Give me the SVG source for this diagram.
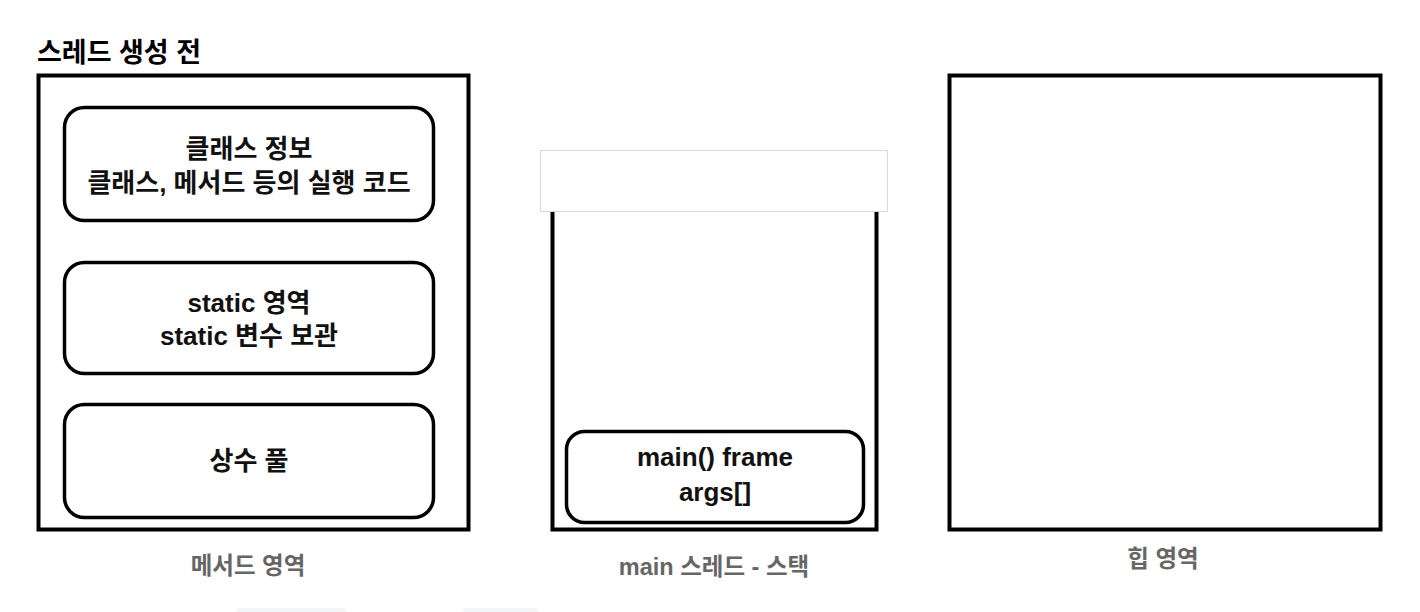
<svg xmlns="http://www.w3.org/2000/svg" width="1420" height="612" viewBox="0 0 1420 612">
<style>
text{font-family:"Liberation Sans","Noto Sans CJK KR",sans-serif;text-anchor:middle;}
.t{font-size:26px;font-weight:bold;fill:#111;}
.lbl{font-size:23.5px;font-weight:bold;fill:#666;}
.title{font-size:27px;font-weight:bold;fill:#000;text-anchor:start;}
.box{fill:#fff;stroke:#000;stroke-width:4;}
.rb{fill:#fff;stroke:#000;stroke-width:3.5;}
</style>
<rect width="1420" height="612" fill="#fff"/>
<text class="title" x="37" y="62">스레드 생성 전</text>
<g id="method-area">
<rect class="box" x="38.5" y="75.5" width="430" height="454"/>
<text class="lbl" x="248" y="574">메서드 영역</text>
</g>
<g id="class-info">
<rect class="rb" x="64.5" y="107.5" width="369" height="113" rx="20"/>
<text class="t" x="249" y="158">클래스 정보</text>
<text class="t" x="249" y="192">클래스, 메서드 등의 실행 코드</text>
</g>
<g id="static-area">
<rect class="rb" x="64.5" y="262.5" width="369" height="111" rx="20"/>
<text class="t" x="249" y="312">static 영역</text>
<text class="t" x="249" y="345">static 변수 보관</text>
</g>
<g id="constant-pool">
<rect class="rb" x="64.5" y="404.5" width="369" height="113" rx="20"/>
<text class="t" x="249" y="470">상수 풀</text>
</g>
<g id="main-stack">
<rect class="box" x="552.5" y="170" width="324" height="359.5"/>
<rect x="540.5" y="150.5" width="347" height="61" fill="#fff" stroke="#d9d9d9" stroke-width="1"/>
<text class="lbl" x="714" y="575">main 스레드 - 스택</text>
</g>
<g id="main-frame">
<rect class="rb" x="566.5" y="431.5" width="297" height="91" rx="18"/>
<text class="t" x="715" y="466">main() frame</text>
<text class="t" x="715" y="501">args[]</text>
</g>
<g id="heap">
<rect class="box" x="949.5" y="75.5" width="431" height="454"/>
<text class="lbl" x="1163" y="567">힙 영역</text>
</g>
<g id="connectors"></g>
<rect x="236" y="608" width="111" height="10" rx="4" fill="#f4f5f6"/>
<rect x="463" y="608" width="76" height="10" rx="4" fill="#f4f5f6"/>
</svg>
